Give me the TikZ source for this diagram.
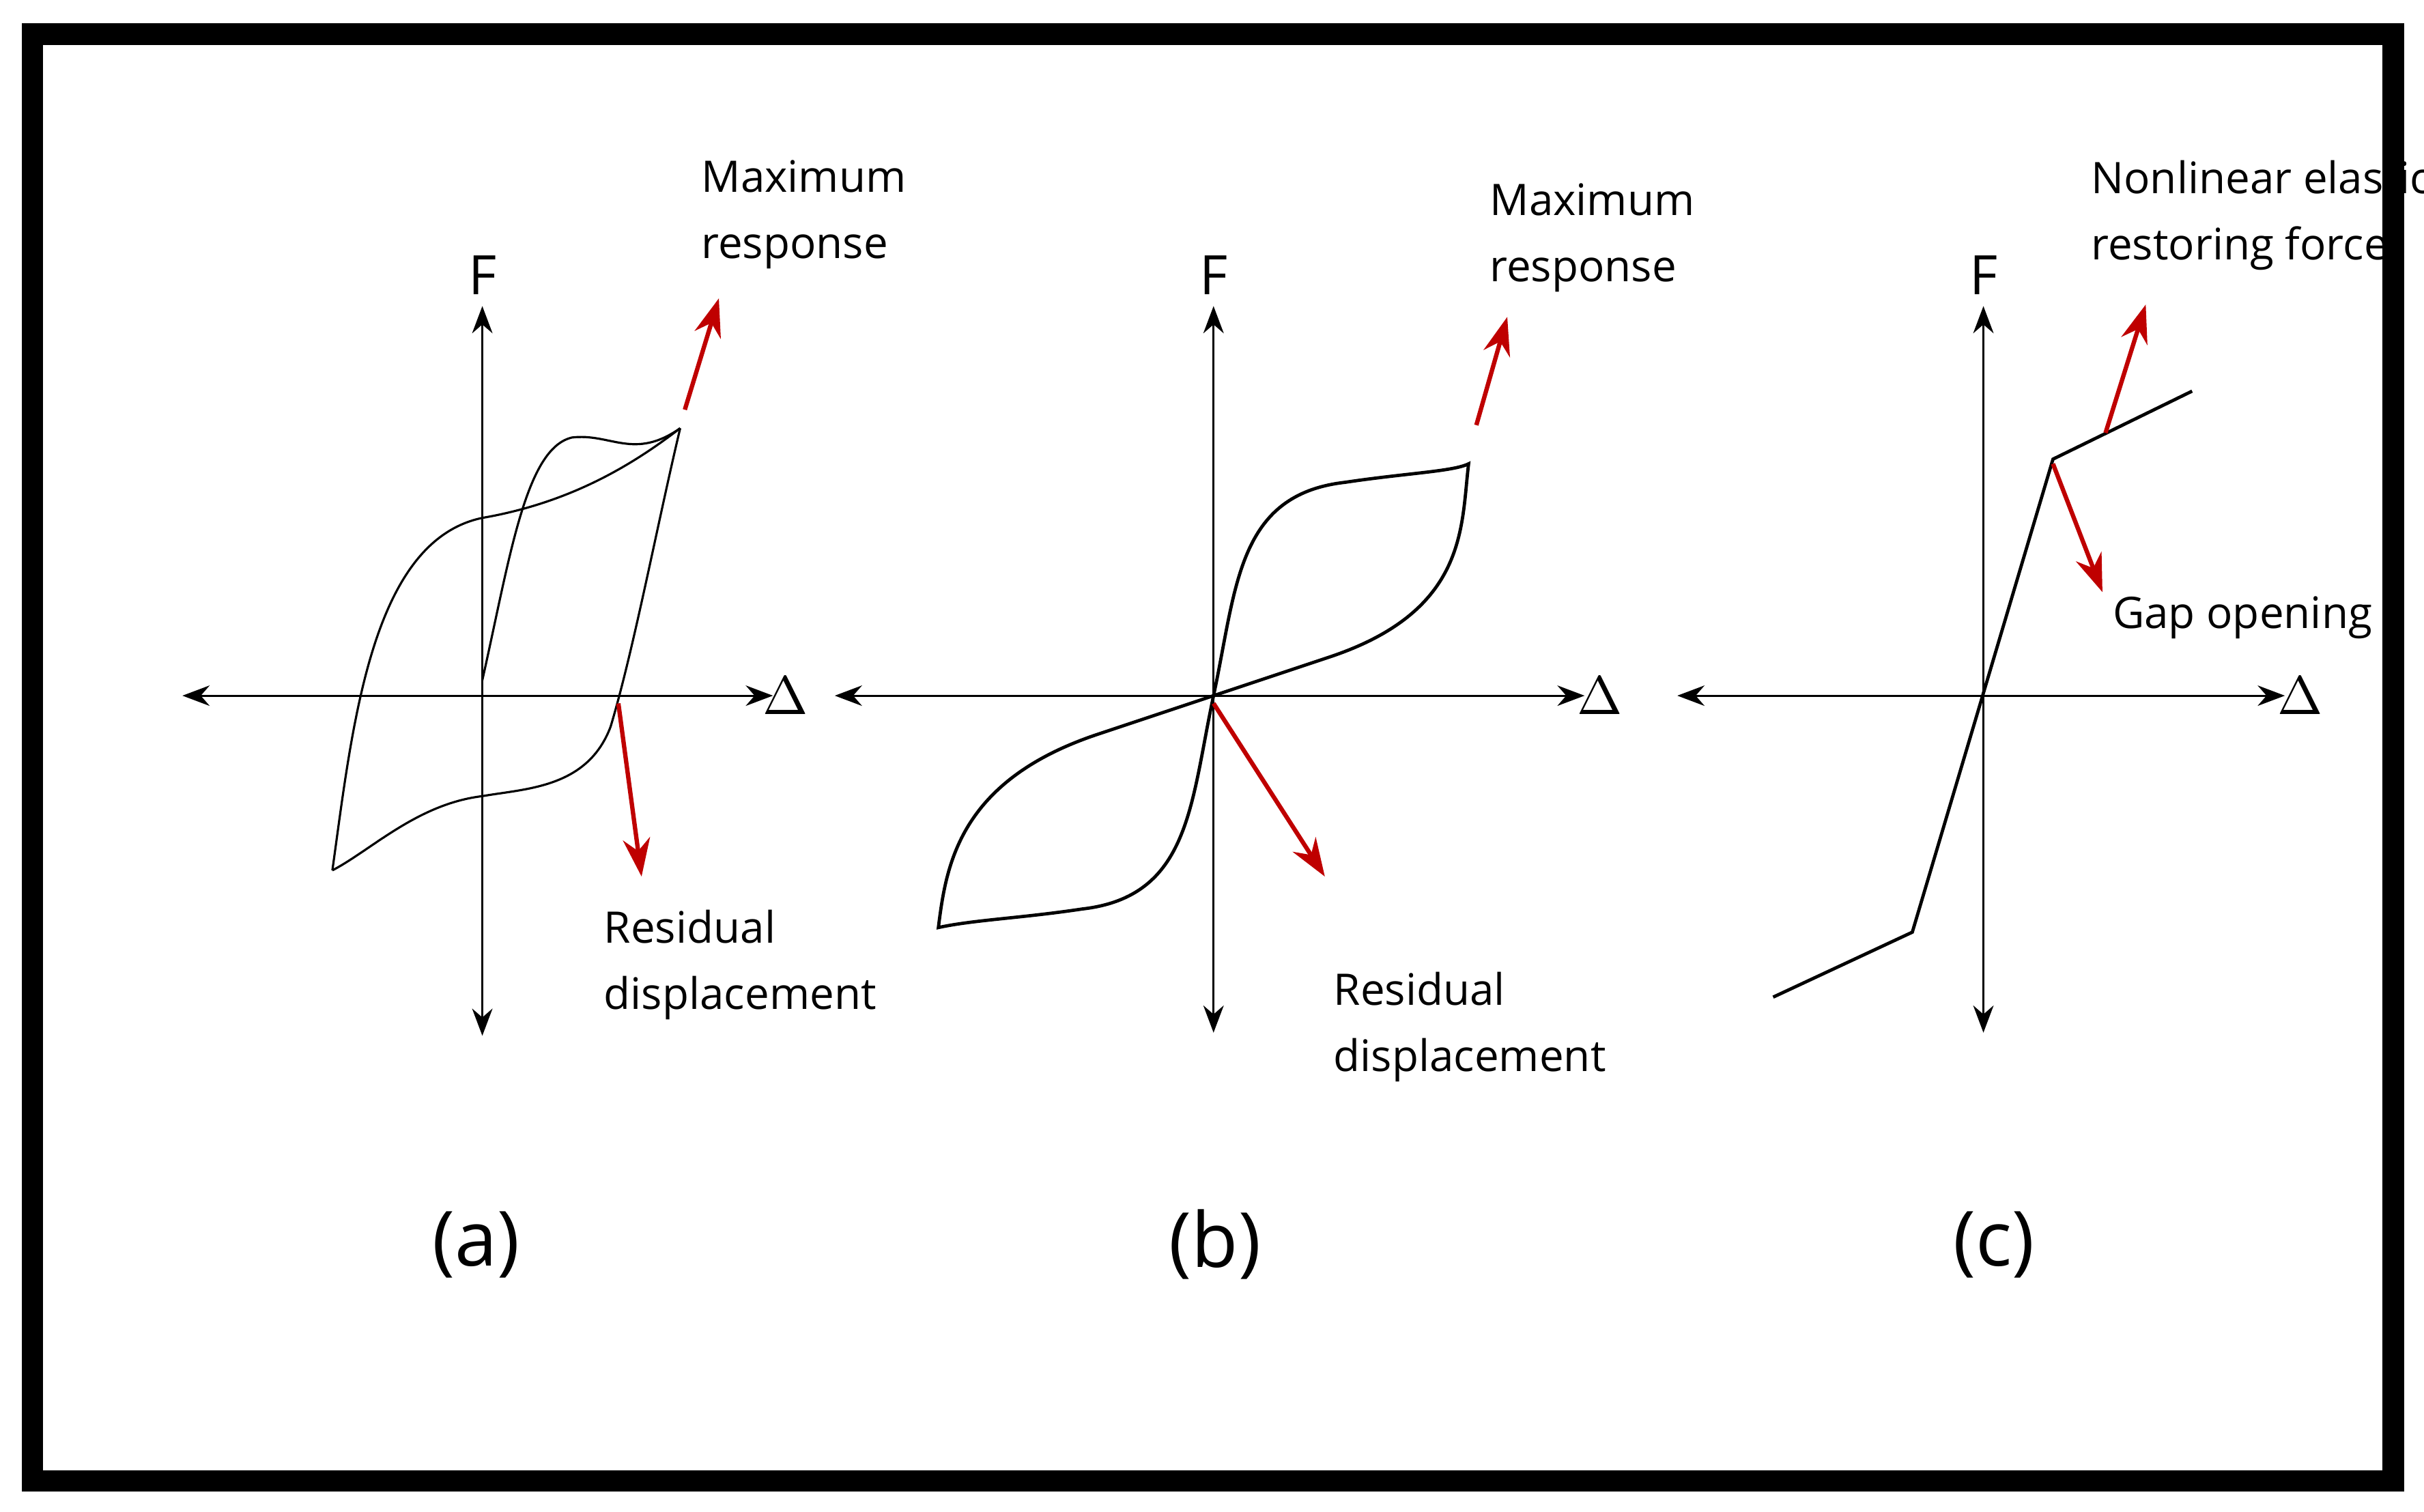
\documentclass[tikz,border=0pt]{standalone}
\usepackage{fontspec}
\setmainfont{Open Sans}
\usetikzlibrary{arrows.meta,positioning}
\tikzset{font={\fontsize{10pt}{12}\selectfont}}
\tikzset{
  axis/.style={thin,{Stealth[length=5pt]}-{Stealth[length=5pt]}},
  curve/.style={thin},
  callout/.style={red!75!black,thick,-{Stealth[length=7pt,width=5pt]}},
  lbl/.style={align=left,anchor=north west,inner sep=0pt,font={\fontsize{8pt}{12.2}\selectfont}},
  panelcap/.style={font={\fontsize{14pt}{18}\selectfont}}
}
\begin{document}
\begin{tikzpicture}[x=0.01cm,y=-0.01cm]
\useasboundingbox (0,0) rectangle (1568,978);
\draw[line width=0.14cm] (21,22) rectangle (1548,958);
% panel (a)
\coordinate (aO) at (312,450);
\coordinate (aL) at (118,450); \coordinate (aR) at (500,450);
\coordinate (aT) at (312,198); \coordinate (aB) at (312,670);
\draw[axis] (aL) -- (aR);
\draw[axis] (aB) -- (aT);
\node (aF) at (312,178) {F};
\node (aD) at (508,450) {$\Delta$};
\coordinate (amax) at (440,277); \coordinate (amin) at (215,563);
\draw[curve] (amin) .. controls (228,470) and (240,350) .. (312,335)
  .. controls (370,325) and (410,300) .. (amax);
\draw[curve] (amax) .. controls (425,340) and (410,420) .. (395,470)
  .. controls (380,510) and (340,510) .. (312,515)
  .. controls (270,520) and (240,550) .. (amin);
\draw[curve] (312,440) .. controls (330,360) and (340,290) .. (370,283)
  .. controls (395,280) and (410,298) .. (amax);
\coordinate (aa1) at (443,265); \coordinate (aa2) at (465,193);
\coordinate (ab1) at (400,455); \coordinate (ab2) at (415,567);
\draw[callout] (aa1) -- (aa2);
\draw[callout] (ab1) -- (ab2);
\node[lbl] (amaxl) at (453,103) {Maximum\\response};
\node[lbl] (aresl) at (390,588) {Residual\\displacement};
\node[panelcap] (acap) at (308,805) {(a)};
% panel (b)
\coordinate (bO) at (785,450);
\coordinate (bL) at (540,450); \coordinate (bR) at (1025,450);
\coordinate (bT) at (785,198); \coordinate (bB) at (785,668);
\draw[axis] (bL) -- (bR);
\draw[axis] (bB) -- (bT);
\node (bF) at (785,178) {F};
\node (bD) at (1035,450) {$\Delta$};
\coordinate (bmax) at (950,300); \coordinate (bmin) at (607,600);
\draw[curve,semithick] (bO) .. controls (800,380) and (800,320) .. (870,312)
  .. controls (910,306) and (940,305) .. (bmax)
  .. controls (945,340) and (950,395) .. (860,425) -- (bO);
\draw[curve,semithick] (bO) .. controls (770,520) and (770,580) .. (700,588)
  .. controls (660,594) and (630,595) .. (bmin)
  .. controls (612,560) and (620,505) .. (710,475) -- (bO);
\coordinate (ba1) at (955,275); \coordinate (ba2) at (975,205);
\coordinate (bb1) at (785,455); \coordinate (bb2) at (857,567);
\draw[callout] (ba1) -- (ba2);
\draw[callout] (bb1) -- (bb2);
\node[lbl] (bmaxl) at (963,118) {Maximum\\response};
\node[lbl] (bresl) at (862,628) {Residual\\displacement};
\node[panelcap] (bcap) at (786,805) {(b)};
% panel (c)
\coordinate (cO) at (1283,450);
\coordinate (cL) at (1085,450); \coordinate (cR) at (1478,450);
\coordinate (cT) at (1283,198); \coordinate (cB) at (1283,668);
\draw[axis] (cL) -- (cR);
\draw[axis] (cB) -- (cT);
\node (cF) at (1283,178) {F};
\node (cD) at (1488,450) {$\Delta$};
\coordinate (c1) at (1147,645); \coordinate (c2) at (1237,603);
\coordinate (c3) at (1328,297); \coordinate (c4) at (1418,253);
\draw[curve,semithick] (c1) -- (c2) -- (c3) -- (c4);
\coordinate (ca1) at (1362,280); \coordinate (ca2) at (1388,197);
\coordinate (cb1) at (1328,300); \coordinate (cb2) at (1360,383);
\draw[callout] (ca1) -- (ca2);
\draw[callout] (cb1) -- (cb2);
\node[lbl] (cnl) at (1352,103) {Nonlinear elastic\\restoring force};
\node[lbl] (cgap) at (1366,385) {Gap opening};
\node[panelcap] (ccap) at (1290,805) {(c)};
\end{tikzpicture}
\end{document}
